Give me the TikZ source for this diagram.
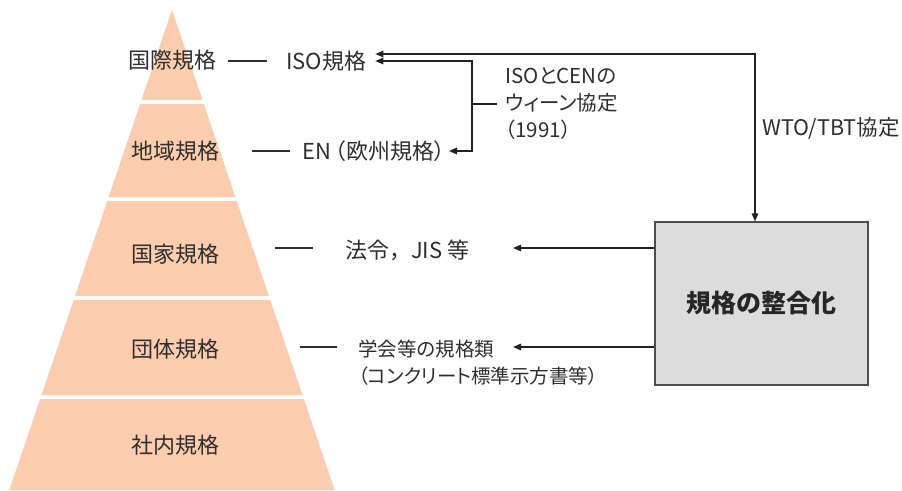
\documentclass[tikz,border=0pt]{standalone}
\usepackage{fontspec}
\usetikzlibrary{arrows.meta,calc}
\newfontfamily\jp{Noto Sans CJK JP}
\newfontfamily\jpp{Noto Sans CJK JP}[RawFeature=+palt]
\definecolor{peach}{HTML}{FBCDAE}
\definecolor{txtc}{HTML}{2E2E2E}
\definecolor{linec}{HTML}{222222}
\definecolor{boxfill}{HTML}{DCDCDC}
\definecolor{boxline}{HTML}{4D4D4D}
\tikzset{
  lbl/.style={font=\jp\fontsize{22}{28}\selectfont, text=txtc, inner sep=0pt},
  lblp/.style={font=\jpp\fontsize{22}{28}\selectfont, text=txtc, inner sep=0pt},
  lblm/.style={font=\jpp\fontsize{20.5}{27}\selectfont, text=txtc, inner sep=0pt},
  lbls/.style={font=\jpp\fontsize{19.5}{27}\selectfont, text=txtc, inner sep=0pt},
  layer/.style={fill=peach, draw=none},
  conn/.style={draw=linec, line width=1.5pt},
  dashline/.style={draw=txtc, line width=1.4pt},
  tip/.style={-{Triangle[length=8pt,width=6.5pt]}},
  tips/.style={{Triangle[length=8pt,width=6.5pt]}-{Triangle[length=8pt,width=6.5pt]}},
}
\begin{document}
\begin{tikzpicture}[x=1pt,y=-1pt]
\useasboundingbox (0,0) rectangle (902,490);
% pyramid layers
\fill[layer] (172,10) -- (202.5,100) -- (141.5,100) -- cycle;
\fill[layer] (140.1,104) -- (203.9,104) -- (235.4,197) -- (108.6,197) -- cycle;
\fill[layer] (107.3,201) -- (236.7,201) -- (269,296) -- (75,296) -- cycle;
\fill[layer] (73.7,300) -- (270.3,300) -- (302.5,395) -- (41.5,395) -- cycle;
\fill[layer] (40.1,399) -- (303.9,399) -- (334.7,490) -- (9.3,490) -- cycle;
% layer labels
\node[lbl] (l1) at (172,60) {国際規格};
\node[lbl] (l2) at (175,151) {地域規格};
\node[lbl] (l3) at (175,254) {国家規格};
\node[lbl] (l4) at (175,349) {団体規格};
\node[lbl] (l5) at (175,445) {社内規格};
% right texts
\node[lbl, anchor=west] (iso) at (286,61) {ISO規格};
\node[lblp, anchor=west] (en) at (302,151) {EN\kern4pt（欧州規格）};
\node[lbl, anchor=west] (hourei) at (345,250) {法令，JIS 等};
\node[lbls, anchor=west, align=left] (gakkai) at (358,363) {学会等の規格類\\（コンクリート標準示方書等）};
\node[lblm, anchor=west, align=left] (vienna) at (505,104) {ISOとCENの\\ウィーン協定\\（1991）};
\node[font=\jp\fontsize{21.5}{27}\selectfont, text=txtc, inner sep=0pt, anchor=west] (wto) at (762,128) {WTO/TBT協定};
% box
\node[draw=boxline, fill=boxfill, line width=1.3pt, minimum width=213pt, minimum height=163pt, inner sep=0pt,
      font=\jp\bfseries\fontsize{25}{30}\selectfont, text=black!85] (box) at (761.5,303.5) {規格の整合化};
% dashes
\draw[dashline] ([xshift=-19pt]iso.west) -- ++(-39,0);
\draw[dashline] ([xshift=-12pt]en.west) -- ++(-38,0);
\draw[dashline] ([xshift=-32pt,yshift=2pt]hourei.west) -- ++(-38,0);
\coordinate (g1) at (337,347);
\draw[dashline] (g1) -- ++(-37,0);
% connectors
\coordinate (j) at (472,61);
\coordinate (te) at (449,151);
\coordinate (t1) at (513,248);
\coordinate (t2) at (513,347);
\draw[conn, tips] ([xshift=9pt,yshift=7pt]iso.east) -| ([xshift=-6.5pt]box.north);
\draw[conn, tips] ([xshift=9pt]iso.east) -| (j) |- (te);
\draw[conn] (j |- vienna.west) -- ([xshift=-8pt]vienna.west);
\draw[conn, tip] (box.west |- t1) -- (t1);
\draw[conn, tip] (box.west |- t2) -- (t2);
\end{tikzpicture}
\end{document}
